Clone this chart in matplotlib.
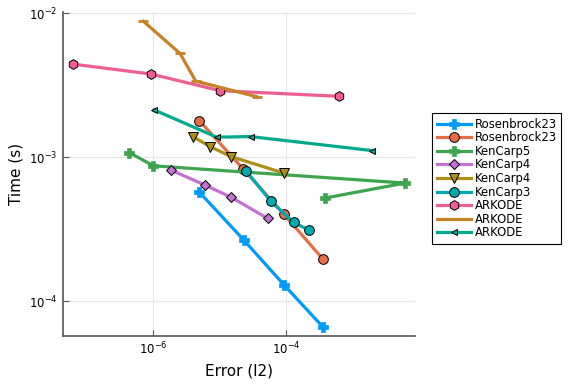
import numpy as np
import matplotlib
matplotlib.use("Agg")
import matplotlib.pyplot as plt
from matplotlib.ticker import LogLocator, NullLocator

# log10 values
ros1_x = [-5.306, -4.632, -4.033, -3.445]
ros1_y = [-3.243, -3.578, -3.886, -4.179]
ros2_x = [-5.306, -4.643, -4.033, -3.445]
ros2_y = [-2.746, -3.083, -3.395, -3.707]
kc5_x = [-6.362, -6.0, -2.204, -3.41]
kc5_y = [-2.968, -3.060, -3.180, -3.284]
kc4a_x = [-5.733, -5.220, -4.833, -4.275]
kc4a_y = [-3.090, -3.194, -3.277, -3.426]
kc4b_x = [-5.406, -5.145, -4.828, -4.029]
kc4b_y = [-2.857, -2.926, -2.996, -3.111]
kc3_x = [-4.606, -4.225, -3.882, -3.647]
kc3_y = [-3.093, -3.308, -3.454, -3.509]
ark1_x = [-7.216, -6.035, -4.994, -3.199]
ark1_y = [-2.353, -2.422, -2.538, -2.577]
ark2_x = [-6.151, -5.597, -5.361, -4.440]
ark2_y = [-2.055, -2.279, -2.471, -2.580]
ark3_x = [-5.985, -5.044, -4.531, -2.706]
ark3_y = [-2.672, -2.861, -2.857, -2.954]

series = [
    ("Rosenbrock23", ros1_x, ros1_y, "#009AFA", "P"),
    ("Rosenbrock23", ros2_x, ros2_y, "#E36F47", "o"),
    ("KenCarp5", kc5_x, kc5_y, "#3EA44E", "P"),
    ("KenCarp4", kc4a_x, kc4a_y, "#C371D2", "D"),
    ("KenCarp4", kc4b_x, kc4b_y, "#AC8E18", "v"),
    ("KenCarp3", kc3_x, kc3_y, "#00A9AD", "o"),
    ("ARKODE", ark1_x, ark1_y, "#ED5E93", "h"),
    ("ARKODE", ark2_x, ark2_y, "#C68225", "_"),
    ("ARKODE", ark3_x, ark3_y, "#00A98D", "<"),
]

fig = plt.figure(figsize=(5.76, 3.84), dpi=100)
ax = fig.add_axes([62.7/576, 1-336/384, (415-62.7)/576, (336-12)/384])

for label, xs, ys, c, m in series:
    xs = 10**np.array(xs); ys = 10**np.array(ys)
    kw = dict(color=c, lw=2.3, marker=m, label=label, markerfacecolor=c)
    if m == "P":
        kw.update(markersize=7, markeredgecolor=c, markeredgewidth=0.5)
    elif m == "_":
        kw.update(markersize=7, markeredgecolor=c, markeredgewidth=2)
    elif m in ("<", "D"):
        kw.update(markersize=5, markeredgecolor="k", markeredgewidth=0.7)
    else:
        kw.update(markersize=7, markeredgecolor="k", markeredgewidth=0.7)
    ax.plot(xs, ys, **kw)

ax.set_xscale("log")
ax.set_yscale("log")
ax.set_xlim(10**-7.366, 10**-2.054)
ax.set_ylim(10**-4.243, 10**-1.991)
ax.xaxis.set_major_locator(LogLocator(base=100))
ax.yaxis.set_major_locator(LogLocator(base=10))
ax.xaxis.set_minor_locator(NullLocator())
ax.yaxis.set_minor_locator(NullLocator())
ax.grid(True, color="#e6e6e6", lw=0.8)
ax.set_axisbelow(True)
for s in ("top", "right"):
    ax.spines[s].set_visible(False)
for s in ("left", "bottom"):
    ax.spines[s].set_color("#555555")
    ax.spines[s].set_linewidth(1.2)
ax.tick_params(direction="in", length=4, width=0.8, colors="#555555", labelcolor="black", labelsize=8.5)
ax.set_xlabel("Error (l2)", fontsize=11)
ax.set_ylabel("Time (s)", fontsize=11)

leg = ax.legend(loc="upper left", bbox_to_anchor=(432/576, 1-113/384), bbox_transform=fig.transFigure,
                borderaxespad=0, fontsize=8.4, frameon=True, fancybox=False, edgecolor="black",
                framealpha=1, borderpad=0.4, labelspacing=0.05, handlelength=2.9, handletextpad=0.35)
leg.get_frame().set_linewidth(0.8)

fig.savefig("out.png", dpi=100)
